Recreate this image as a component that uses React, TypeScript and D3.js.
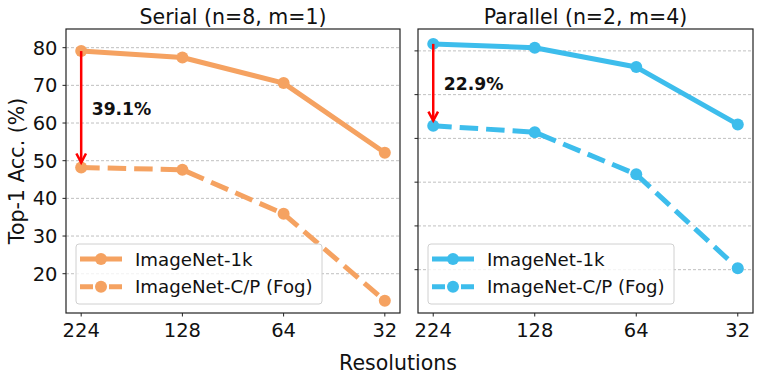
import React from "react";
import * as d3 from "d3";

const resolutions = ["224", "128", "64", "32"];
const serialClean = [79.1, 77.4, 70.6, 52.1];
const serialFog = [48.2, 47.6, 35.9, 12.8];
const parallelClean = [81.6, 80.7, 76.3, 63.2];
const parallelFog = [62.9, 61.4, 51.8, 30.3];
const serialTicks = [20, 30, 40, 50, 60, 70, 80];
const parallelTicks = [30, 40, 50, 60, 70, 80];
const seriesNames = ["ImageNet-1k", "ImageNet-C/P (Fog)"];

const W = 761;
const H = 383;
const FONT = "DejaVu Sans";

const panels = [
  {
    title: "Serial (n=8, m=1)",
    left: 66,
    right: 400,
    clean: serialClean,
    fog: serialFog,
    domain: [9.57, 84.96],
    ticks: serialTicks,
    showLabels: true,
    color: "#F5A261",
    drop: "39.1%",
    dropY: 62,
  },
  {
    title: "Parallel (n=2, m=4)",
    left: 418,
    right: 753,
    clean: parallelClean,
    fog: parallelFog,
    domain: [20.1, 85.0],
    ticks: parallelTicks,
    showLabels: false,
    color: "#3DBDEC",
    drop: "22.9%",
    dropY: 71,
  },
];

const top = 29;
const bottom = 313;
const dash = "18.5 8";

function Panel({ p }: { p: (typeof panels)[number] }) {
  // scalePoint padding is in step units: 0.15 step each side, like matplotlib's 5% margin
  const x = d3.scalePoint<string>().domain(resolutions).range([p.left, p.right]).padding(0.15);
  const y = d3.scaleLinear().domain(p.domain).range([bottom, top]);
  const line = d3
    .line<number>()
    .x((_, i) => x(resolutions[i])!)
    .y((d) => y(d));

  const x0 = x(resolutions[0])!;
  const yStart = y(p.clean[0]);
  const yEnd = y(p.fog[0]) - 5;

  const legX = p.left + 10;
  const legY = 244;

  return (
    <g>
      {/* grid */}
      {p.ticks.map((t) => (
        <line
          key={t}
          x1={p.left}
          x2={p.right}
          y1={y(t)}
          y2={y(t)}
          stroke="#b0b0b0"
          strokeWidth={0.8}
          strokeDasharray="3 2"
        />
      ))}
      {/* y ticks */}
      {p.ticks.map((t) => (
        <g key={"t" + t}>
          <line x1={p.left - 3.5} x2={p.left} y1={y(t)} y2={y(t)} stroke="#222" strokeWidth={1} />
          {p.showLabels && (
            <text
              x={p.left - 8.5}
              y={y(t)}
              dy="0.36em"
              textAnchor="end"
              fontSize={19.5}
              fill="#111"
            >
              {t}
            </text>
          )}
        </g>
      ))}
      {/* x ticks */}
      {resolutions.map((r) => (
        <g key={r}>
          <line x1={x(r)} x2={x(r)} y1={bottom} y2={bottom + 3.5} stroke="#222" strokeWidth={1} />
          <text x={x(r)} y={336.8} textAnchor="middle" fontSize={19.5} fill="#111">
            {r}
          </text>
        </g>
      ))}
      {/* lines */}
      <path d={line(p.clean)!} fill="none" stroke={p.color} strokeWidth={5} strokeLinejoin="round" />
      <path d={line(p.fog)!} fill="none" stroke={p.color} strokeWidth={5} strokeDasharray={dash} />
      {p.clean.map((v, i) => (
        <circle key={"c" + i} cx={x(resolutions[i])} cy={y(v)} r={6} fill={p.color} />
      ))}
      {p.fog.map((v, i) => (
        <circle key={"f" + i} cx={x(resolutions[i])} cy={y(v)} r={6} fill={p.color} />
      ))}
      {/* drop arrow */}
      <line x1={x0} x2={x0} y1={yStart} y2={yEnd} stroke="#ff0000" strokeWidth={2.5} />
      <path
        d={`M${x0 - 4.8},${yEnd - 9} L${x0},${yEnd} L${x0 + 4.8},${yEnd - 9}`}
        fill="none"
        stroke="#ff0000"
        strokeWidth={2.5}
      />
      <text x={x0 + 10.5} y={y(p.dropY)} fontSize={17.2} fontWeight="bold" fill="#111">
        {p.drop}
      </text>
      {/* legend */}
      <rect
        x={legX}
        y={legY}
        width={246}
        height={60}
        rx={3}
        fill="white"
        fillOpacity={0.8}
        stroke="#d0d0d0"
        strokeWidth={1}
      />
      {seriesNames.map((name, i) => {
        const ly = 259 + i * 27.7;
        return (
          <g key={name}>
            <line
              x1={legX + 4}
              x2={legX + 46}
              y1={ly}
              y2={ly}
              stroke={p.color}
              strokeWidth={5}
              strokeDasharray={i === 1 ? "13 4 8 4 13" : undefined}
            />
            <circle cx={legX + 25} cy={ly} r={6} fill={p.color} />
            <text x={legX + 59} y={ly} dy="0.36em" fontSize={18.2} fill="#111">
              {name}
            </text>
          </g>
        );
      })}
      {/* frame */}
      <rect
        x={p.left}
        y={top}
        width={p.right - p.left}
        height={bottom - top}
        fill="none"
        stroke="#222"
        strokeWidth={1.2}
      />
      <text x={(p.left + p.right) / 2} y={23.5} textAnchor="middle" fontSize={20.5} fill="#111">
        {p.title}
      </text>
    </g>
  );
}

export default function App() {
  return (
    <svg
      width={W}
      height={H}
      style={{ position: "absolute", left: 0, top: 0, fontFamily: FONT }}
    >
      <rect width={W} height={H} fill="white" />
      {panels.map((p) => (
        <Panel key={p.title} p={p} />
      ))}
      <text
        transform={`translate(24, ${(top + bottom) / 2}) rotate(-90)`}
        textAnchor="middle"
        fontSize={20.5}
        fill="#111"
      >
        Top-1 Acc. (%)
      </text>
      <text x={398} y={370} textAnchor="middle" fontSize={20.5} fill="#111">
        Resolutions
      </text>
    </svg>
  );
}
